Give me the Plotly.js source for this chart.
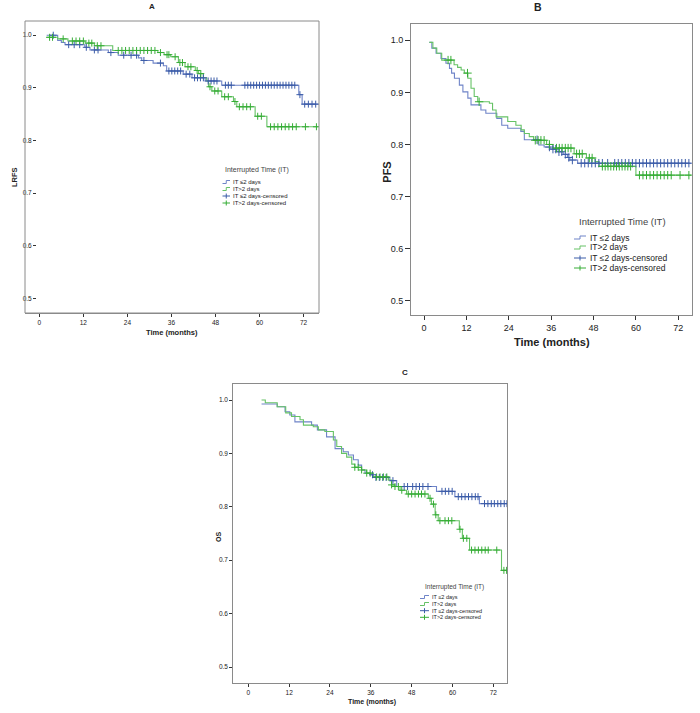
<!DOCTYPE html>
<html><head><meta charset="utf-8">
<script src="https://cdn.plot.ly/plotly-3.0.1.min.js"></script>
<style>html,body{margin:0;padding:0;background:#fff}#chart{width:700px;height:713px}</style>
</head><body><div id="chart"></div>
<script>
// ---------- Panel A : LRFS ----------
const A_le2_time = [2.0, 5.0, 6.0, 7.0, 12.4, 13.8, 18.8, 21.5, 27.0, 27.9, 31.0, 33.8, 34.7, 39.2, 41.6, 45.2, 49.7, 70.7, 71.6, 76.0];
const A_le2_surv = [1.000, 0.990, 0.986, 0.982, 0.977, 0.972, 0.967, 0.962, 0.957, 0.952, 0.947, 0.942, 0.932, 0.926, 0.919, 0.913, 0.905, 0.887, 0.869, 0.869];
const A_le2_cens = [3.8, 8.0, 9.5, 11.0, 12.8, 15.0, 16.0, 19.5, 23.0, 25.0, 26.5, 28.5, 33.0, 35.3, 36.1, 36.9, 37.7, 38.5, 40.0, 41.0, 42.3, 43.1, 43.9, 44.7, 46.0, 46.8, 47.6, 48.4, 50.7, 51.5, 52.3, 56.0, 56.8, 57.6, 58.4, 59.2, 60.0, 60.8, 61.6, 62.4, 63.2, 64.0, 64.8, 65.6, 66.4, 67.2, 68.0, 68.8, 69.6, 71.0, 72.3, 73.3, 74.3, 75.3];
const A_gt2_time = [2.0, 5.0, 7.8, 12.5, 15.0, 20.0, 32.3, 34.0, 35.8, 37.9, 39.7, 42.5, 43.4, 44.7, 45.6, 46.1, 47.0, 49.7, 52.9, 53.8, 58.8, 62.0, 76.0];
const A_gt2_surv = [0.996, 0.993, 0.989, 0.985, 0.980, 0.971, 0.967, 0.963, 0.959, 0.948, 0.940, 0.933, 0.927, 0.919, 0.913, 0.902, 0.894, 0.883, 0.874, 0.864, 0.846, 0.826, 0.826];
const A_gt2_cens = [2.8, 3.6, 6.5, 9.0, 10.0, 11.0, 12.0, 13.5, 14.3, 15.8, 16.8, 21.5, 22.5, 23.5, 24.5, 25.5, 26.5, 27.5, 28.5, 29.5, 30.5, 31.5, 33.0, 34.8, 35.3, 37.0, 38.3, 39.0, 40.5, 41.3, 43.0, 44.0, 46.5, 47.8, 48.7, 50.5, 51.5, 53.3, 54.5, 55.5, 56.5, 57.5, 59.5, 60.5, 63.0, 64.0, 65.0, 66.0, 67.0, 68.0, 69.0, 70.0, 72.5, 75.5];

// ---------- Panel B : PFS ----------
const B_le2_time = [1.5, 2.2, 3.4, 4.8, 6.2, 7.2, 7.8, 8.6, 10.0, 11.0, 12.4, 13.3, 16.1, 17.5, 20.6, 22.0, 23.7, 27.4, 28.4, 32.5, 34.0, 35.7, 37.6, 39.4, 40.6, 41.3, 43.5, 75.8];
const B_le2_surv = [0.996, 0.985, 0.975, 0.965, 0.956, 0.946, 0.937, 0.927, 0.914, 0.901, 0.889, 0.876, 0.866, 0.860, 0.850, 0.837, 0.831, 0.825, 0.809, 0.799, 0.795, 0.791, 0.786, 0.781, 0.775, 0.770, 0.764, 0.764];
const B_le2_cens = [32.0, 35.5, 36.5, 37.3, 38.2, 39.0, 40.0, 41.0, 42.0, 44.5, 45.5, 46.5, 47.5, 48.5, 49.5, 50.5, 52.0, 54.0, 55.0, 56.0, 57.0, 58.0, 59.0, 60.0, 61.0, 62.0, 63.0, 64.0, 65.0, 66.0, 67.0, 68.0, 69.0, 70.0, 71.0, 72.0, 73.0, 74.0, 75.0];
const B_gt2_time = [1.5, 2.5, 3.6, 5.0, 8.5, 9.5, 10.5, 11.4, 12.4, 13.3, 14.2, 15.2, 18.5, 19.4, 20.4, 23.7, 26.0, 27.5, 28.4, 29.8, 31.0, 34.7, 36.5, 42.5, 46.0, 48.4, 49.6, 60.0, 75.8];
const B_gt2_surv = [0.996, 0.985, 0.975, 0.962, 0.953, 0.948, 0.943, 0.937, 0.927, 0.908, 0.892, 0.882, 0.879, 0.866, 0.853, 0.844, 0.837, 0.828, 0.821, 0.815, 0.808, 0.800, 0.793, 0.782, 0.774, 0.767, 0.758, 0.741, 0.741];
const B_gt2_cens = [6.8, 7.6, 12.3, 15.6, 31.5, 32.3, 33.1, 34.0, 35.5, 37.5, 38.3, 39.1, 40.0, 40.8, 41.6, 43.2, 44.0, 44.8, 46.8, 47.6, 50.5, 51.3, 52.1, 52.9, 53.7, 54.5, 55.3, 56.1, 56.9, 57.7, 58.5, 61.0, 62.0, 63.0, 64.0, 65.0, 66.0, 67.0, 68.0, 69.0, 70.0, 72.5, 75.0];

// ---------- Panel C : OS ----------
const C_le2_time = [3.9, 8.5, 10.8, 12.2, 13.7, 18.6, 20.3, 23.0, 25.5, 27.9, 29.4, 30.9, 32.3, 33.3, 34.3, 35.8, 36.7, 41.6, 43.6, 55.3, 60.7, 67.9, 76.0];
const C_le2_surv = [0.9925, 0.9875, 0.978, 0.972, 0.959, 0.953, 0.944, 0.931, 0.909, 0.903, 0.897, 0.888, 0.878, 0.869, 0.863, 0.860, 0.855, 0.849, 0.838, 0.829, 0.819, 0.806, 0.806];
const C_le2_cens = [36.5, 37.5, 38.5, 39.5, 40.5, 42.5, 45.8, 46.8, 48.3, 49.3, 50.3, 51.3, 52.8, 56.9, 57.9, 58.9, 59.9, 61.7, 62.7, 63.7, 64.7, 65.7, 66.7, 67.5, 69.4, 70.4, 71.4, 72.3, 73.3, 74.2, 75.2, 76.0];
const C_gt2_time = [3.9, 5.0, 8.5, 11.0, 12.7, 15.2, 16.2, 19.1, 20.6, 22.5, 25.0, 26.0, 27.4, 28.9, 30.4, 31.3, 33.3, 34.8, 36.7, 41.2, 42.1, 43.1, 44.6, 46.5, 52.9, 53.8, 54.9, 55.8, 62.0, 62.9, 65.0, 74.4, 76.0];
const C_gt2_surv = [1.000, 0.995, 0.9875, 0.976, 0.969, 0.963, 0.953, 0.950, 0.944, 0.941, 0.925, 0.913, 0.900, 0.893, 0.880, 0.874, 0.869, 0.863, 0.856, 0.850, 0.841, 0.838, 0.831, 0.824, 0.816, 0.805, 0.785, 0.774, 0.758, 0.741, 0.719, 0.681, 0.681];
const C_gt2_cens = [31.3, 32.3, 33.3, 34.8, 35.8, 37.7, 38.7, 39.7, 40.7, 42.1, 43.1, 44.1, 45.1, 47.0, 48.0, 49.0, 50.0, 50.9, 51.9, 53.4, 54.4, 55.1, 56.3, 57.8, 58.8, 59.8, 62.2, 63.2, 64.2, 65.6, 66.6, 67.6, 68.6, 69.6, 70.5, 73.0, 75.1, 75.9];

const seriesNames = ['IT ≤2 days', 'IT>2 days', 'IT ≤2 days-censored', 'IT>2 days-censored'];
const legendTitle = 'Interrupted Time (IT)';
const xTickVals = [0, 12, 24, 36, 48, 60, 72];
const yTickVals = [0.5, 0.6, 0.7, 0.8, 0.9, 1.0];

// ---------- styling ----------
const BLUE_LINE = '#6f84c8', GREEN_LINE = '#66c266';
const BLUE_MARK = '#3b5ca8', GREEN_MARK = '#36ad36';
const FRAME = '#8a8a8a';
const FONT = 'Liberation Sans, Arial, sans-serif';
const W = 700, H = 713;
const px = v => v / W, py = v => 1 - v / H;

function stepAt(ts, ss, t) {
  let v = ss[0];
  for (let i = 0; i < ts.length; i++) if (ts[i] <= t) v = ss[i];
  return v;
}

const traces = [];
function addPanel(ax, le2t, le2s, le2c, gt2t, gt2s, gt2c, msize) {
  const xa = 'x' + (ax === 1 ? '' : ax), ya = 'y' + (ax === 1 ? '' : ax);
  traces.push({x: le2t, y: le2s, xaxis: xa, yaxis: ya, mode: 'lines', line: {shape: 'hv', color: BLUE_LINE, width: 1.1}, name: seriesNames[0], showlegend: false, hoverinfo: 'skip'});
  traces.push({x: gt2t, y: gt2s, xaxis: xa, yaxis: ya, mode: 'lines', line: {shape: 'hv', color: GREEN_LINE, width: 1.1}, name: seriesNames[1], showlegend: false, hoverinfo: 'skip'});
  traces.push({x: le2c, y: le2c.map(t => stepAt(le2t, le2s, t)), xaxis: xa, yaxis: ya, mode: 'markers', name: seriesNames[2], showlegend: false, hoverinfo: 'skip',
    marker: {symbol: 'cross-thin', size: msize, line: {color: BLUE_MARK, width: 1}}});
  traces.push({x: gt2c, y: gt2c.map(t => stepAt(gt2t, gt2s, t)), xaxis: xa, yaxis: ya, mode: 'markers', name: seriesNames[3], showlegend: false, hoverinfo: 'skip',
    marker: {symbol: 'cross-thin', size: msize, line: {color: GREEN_MARK, width: 1}}});
}
addPanel(1, A_le2_time, A_le2_surv, A_le2_cens, A_gt2_time, A_gt2_surv, A_gt2_cens, 5);
addPanel(2, B_le2_time, B_le2_surv, B_le2_cens, B_gt2_time, B_gt2_surv, B_gt2_cens, 6);
addPanel(3, C_le2_time, C_le2_surv, C_le2_cens, C_gt2_time, C_gt2_surv, C_gt2_cens, 5);

function xAxis(domain, range, fs, tl, anchor) {
  return {domain: domain, range: range, anchor: anchor, tickmode: 'array', tickvals: xTickVals, ticks: 'outside', ticklen: tl, tickcolor: '#333', tickwidth: 1,
    showline: true, mirror: true, linecolor: FRAME, linewidth: 1, showgrid: false, zeroline: false,
    tickfont: {family: FONT, size: fs, color: '#222'}, fixedrange: true};
}
function yAxis(domain, range, fs, tl, anchor) {
  return {domain: domain, range: range, anchor: anchor, tickmode: 'array', tickvals: yTickVals, tickformat: '.1f', ticks: 'outside', ticklen: tl, tickcolor: '#333', tickwidth: 1,
    showline: true, mirror: true, linecolor: FRAME, linewidth: 1, showgrid: false, zeroline: false,
    tickfont: {family: FONT, size: fs, color: '#222'}, fixedrange: true};
}

const annotations = [], shapes = [];
function txt(x, y, text, size, opts) {
  annotations.push(Object.assign({xref: 'paper', yref: 'paper', x: px(x), y: py(y), text: text, showarrow: false,
    font: {family: FONT, size: size, color: '#222'}, xanchor: 'center', yanchor: 'middle'}, opts || {}));
}
function legendBlock(titleX, titleY, rows, symX0, symX1, textX, fs, tfs) {
  txt(titleX, titleY, legendTitle, tfs, {xanchor: 'left', font: {family: FONT, size: tfs, color: '#444'}});
  const cols = [BLUE_LINE, GREEN_LINE, BLUE_MARK, GREEN_MARK];
  rows.forEach((ry, i) => {
    const c = cols[i];
    const xm = (symX0 + symX1) / 2;
    if (i < 2) {
      shapes.push({type: 'path', xref: 'paper', yref: 'paper', line: {color: c, width: 1},
        path: `M ${px(symX0)} ${py(ry + 1.5)} L ${px(xm)} ${py(ry + 1.5)} L ${px(xm)} ${py(ry - 1.5)} L ${px(symX1)} ${py(ry - 1.5)}`});
    } else {
      shapes.push({type: 'line', xref: 'paper', yref: 'paper', x0: px(symX0), x1: px(symX1), y0: py(ry), y1: py(ry), line: {color: c, width: 1}});
      shapes.push({type: 'line', xref: 'paper', yref: 'paper', x0: px(xm), x1: px(xm), y0: py(ry - 2.5), y1: py(ry + 2.5), line: {color: c, width: 1}});
    }
    txt(textX, ry, seriesNames[i], fs, {xanchor: 'left'});
  });
}

// panel titles
txt(151.7, 7, '<b>A</b>', 8);
txt(538, 7.5, '<b>B</b>', 10.5);
txt(405, 372, '<b>C</b>', 8);
// axis titles
txt(172, 332, '<b>Time (months)</b>', 7.5);
txt(551.7, 341.5, '<b>Time (months)</b>', 11);
txt(371.7, 701.5, '<b>Time (months)</b>', 7);
txt(14, 177, '<b>LRFS</b>', 7.5, {textangle: -90});
txt(386.7, 172, '<b>PFS</b>', 11, {textangle: -90});
txt(218, 537, '<b>OS</b>', 7, {textangle: -90});
// legends
legendBlock(223, 170, [182, 189, 196, 203], 222.5, 230, 230.5, 6, 7);
legendBlock(576.7, 221.7, [237.5, 247.5, 258, 268], 574, 586, 587.5, 8.5, 9.5);
legendBlock(422.7, 586.7, [597, 604, 610.7, 617.3], 420, 429, 430, 5.5, 6.5);

// panel A: outer frame, y-axis ticks sit just inside it
shapes.push({type: 'rect', xref: 'paper', yref: 'paper', x0: px(25), x1: px(319), y0: py(313), y1: py(21), line: {color: FRAME, width: 1}, fillcolor: 'rgba(0,0,0,0)'});
const yA = yAxis([py(313), py(21)], [0.472, 1.027], 6.5, 3, 'free');
yA.position = px(36); yA.showline = false; yA.mirror = false;

const layout = {
  width: W, height: H, margin: {l: 0, r: 0, t: 0, b: 0}, paper_bgcolor: '#fff', plot_bgcolor: '#fff', showlegend: false,
  xaxis: xAxis([px(25), px(319)], [-3.9, 76.2], 6.5, 3, 'y'),
  yaxis: yA,
  xaxis2: xAxis([px(411), px(691.7)], [-3.7, 75.8], 9, 4, 'y2'),
  yaxis2: yAxis([py(315), py(24.3)], [0.4725, 1.0307], 9, 5, 'x2'),
  xaxis3: xAxis([px(233.3), px(507.3)], [-4.4, 76.1], 6.5, 3, 'y3'),
  yaxis3: yAxis([py(682.7), py(384)], [0.4706, 1.03], 6.5, 3, 'x3'),
  annotations: annotations, shapes: shapes
};
layout.xaxis.anchor = 'free'; layout.xaxis.position = py(313);
Plotly.newPlot('chart', traces, layout, {staticPlot: true, displayModeBar: false});
</script></body></html>
